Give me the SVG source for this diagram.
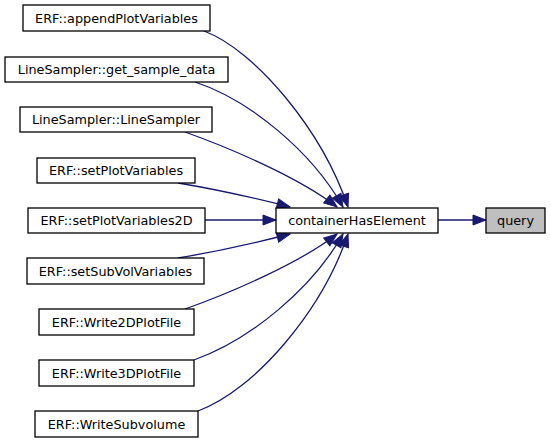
<svg xmlns="http://www.w3.org/2000/svg" width="551" height="443" viewBox="0 0 551 443">
<style>
.n rect{fill:#ffffff;stroke:#000000;stroke-width:1.3}
.n text{font-family:"DejaVu Sans",sans-serif;font-size:12.8px;fill:#000000;text-anchor:middle}
.g rect{fill:#bfbfbf}
.e path{fill:none;stroke:#191970;stroke-width:1.3}
</style>
<defs>
<marker id="ah" markerUnits="userSpaceOnUse" markerWidth="15" markerHeight="12" refX="13" refY="5" orient="auto" viewBox="-1 -1 15 12">
<path d="M0,0 L13,5 L0,10 z" fill="#191970" stroke="#191970" stroke-width="1"/>
</marker>
</defs>
<rect width="551" height="443" fill="#ffffff"/>
<g class="e" id="edges">
<path d="M204,31 C255,50 322,130 348,207" marker-end="url(#ah)"/>
<path d="M195,82 C250,100 312,152 343,207" marker-end="url(#ah)"/>
<path d="M185,132 C230,148 300,178 337,207" marker-end="url(#ah)"/>
<path d="M178,183 C220,190 255,198 290,207" marker-end="url(#ah)"/>
<path d="M205,220 L276,220" marker-end="url(#ah)"/>
<path d="M178,258 C220,251 255,243 290,234" marker-end="url(#ah)"/>
<path d="M185,309 C230,293 300,263 337,234" marker-end="url(#ah)"/>
<path d="M194,360 C250,340 312,289 343,234" marker-end="url(#ah)"/>
<path d="M198,411 C255,390 322,311 348,234" marker-end="url(#ah)"/>
<path d="M438,220 L486,220" marker-end="url(#ah)"/>
</g>
<g class="n" id="node_append"><rect x="23" y="5" width="187" height="26"/><text x="116.5" y="22.5">ERF::appendPlotVariables</text></g>
<g class="n" id="node_get_sample_data"><rect x="5" y="57" width="223" height="25"/><text x="116.5" y="74">LineSampler::get_sample_data</text></g>
<g class="n" id="node_LineSampler"><rect x="20" y="107" width="192" height="25"/><text x="116" y="124">LineSampler::LineSampler</text></g>
<g class="n" id="node_setPlotVariables"><rect x="37" y="158" width="158" height="25"/><text x="116" y="175">ERF::setPlotVariables</text></g>
<g class="n" id="node_setPlotVariables2D"><rect x="28" y="208" width="177" height="25"/><text x="116.5" y="225">ERF::setPlotVariables2D</text></g>
<g class="n" id="node_setSubVolVariables"><rect x="27" y="258" width="177" height="26"/><text x="115.5" y="275.5">ERF::setSubVolVariables</text></g>
<g class="n" id="node_Write2DPlotFile"><rect x="39" y="309" width="155" height="26"/><text x="116.5" y="326.5">ERF::Write2DPlotFile</text></g>
<g class="n" id="node_Write3DPlotFile"><rect x="39" y="360" width="155" height="26"/><text x="116.5" y="377.5">ERF::Write3DPlotFile</text></g>
<g class="n" id="node_WriteSubvolume"><rect x="35" y="411" width="163" height="26"/><text x="116.5" y="428.5">ERF::WriteSubvolume</text></g>
<g class="n" id="node_containerHasElement"><rect x="276" y="208" width="162" height="25"/><text x="357" y="225">containerHasElement</text></g>
<g class="n g" id="node_query"><rect x="486" y="208" width="59" height="25"/><text x="515.5" y="225">query</text></g>
</svg>
